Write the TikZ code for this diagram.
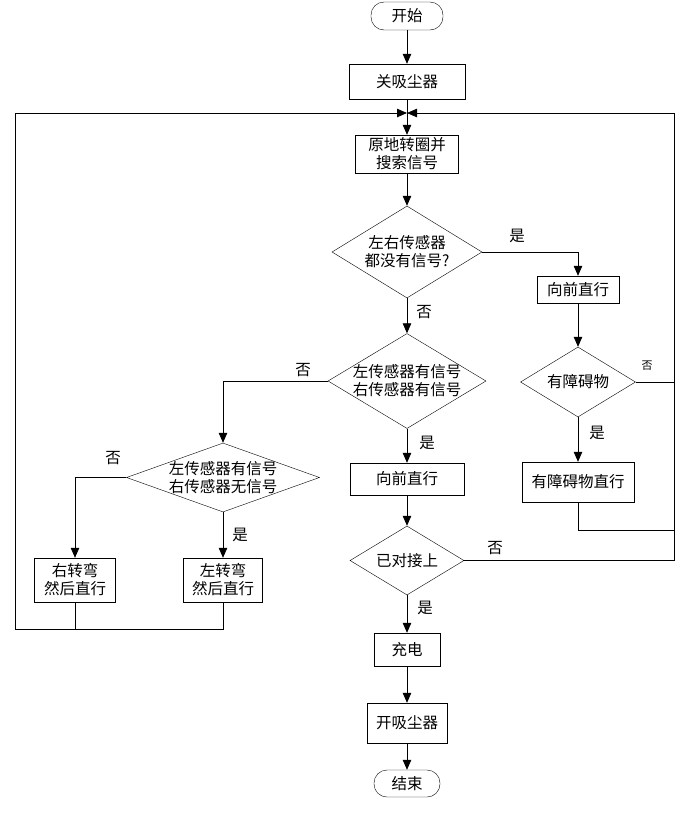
\documentclass[tikz,border=0pt]{standalone}
\usepackage{fontspec}
\setmainfont{Noto Sans CJK SC}
\usetikzlibrary{arrows.meta,shapes.geometric}

\begin{document}
\begin{tikzpicture}[x=1pt,y=-1pt,
    every node/.style={font=\fontsize{15.5}{18}\selectfont},
    box/.style={draw, rectangle, align=center, inner sep=0pt},
    terminal/.style={draw, rectangle, rounded corners=13pt, inner sep=0pt},
    decision/.style={draw, diamond, align=center, inner sep=-4pt, aspect=1.66},
    lbl/.style={inner sep=0pt},
    line/.style={line width=0.8pt},
    arrow/.style={line width=0.8pt, -{Triangle[length=10pt,width=8.5pt]}}]
    \useasboundingbox (0,0) rectangle (693,817);
    \def\mainx{407}
    % main column
    \node[terminal, minimum width=72pt, minimum height=28pt] (start) at (\mainx,16) {开始};
    \node[box, minimum width=116pt, minimum height=35pt] (off) at (\mainx,81.5) {关吸尘器};
    \node[box, minimum width=103pt, minimum height=38pt] (search) at (\mainx,154) {原地转圈并\\搜索信号};
    \node[decision, minimum width=150pt, minimum height=92pt] (nosig) at (\mainx,252) {左右传感器\\都没有信号?};
    \node[decision, minimum width=158pt, minimum height=95pt] (both) at (\mainx,381) {左传感器有信号\\右传感器有信号};
    \node[box, minimum width=114pt, minimum height=32pt] (fwdM) at (\mainx,479) {向前直行};
    \node[decision, minimum width=114pt, minimum height=69pt] (docked) at (\mainx,560.5) {已对接上};
    \node[box, minimum width=66pt, minimum height=33pt] (charge) at (\mainx,649.5) {充电};
    \node[box, minimum width=80pt, minimum height=40pt] (on) at (\mainx,723) {开吸尘器};
    \node[terminal, minimum width=66pt, minimum height=27pt] (stop) at (\mainx,783.5) {结束};
    % right column
    \node[box, minimum width=82pt, minimum height=27pt] (fwdR) at (578,289.5) {向前直行};
    \node[decision, minimum width=115pt, minimum height=70pt] (obst) at (578,382) {有障碍物};
    \node[box, minimum width=112pt, minimum height=40pt] (obstfwd) at (578,482) {有障碍物直行};
    % left column
    \node[decision, aspect=2.8, minimum width=193pt, minimum height=69pt] (leftonly) at (223,477.5) {左传感器有信号\\右传感器无信号};
    \node[box, minimum width=81pt, minimum height=44pt] (turnR) at (75,580) {右转弯\\然后直行};
    \node[box, minimum width=79pt, minimum height=44pt] (turnL) at (223,580) {左转弯\\然后直行};
    % loop corners
    \coordinate (top) at (\mainx,113);
    \coordinate (tl) at (15,113);
    \coordinate (bl) at (15,629);
    \coordinate (tr) at (674,113);
    \coordinate (br) at (674,530);
    % connectors
    \draw[arrow] (start) -- (off);
    \draw[arrow] (off) -- (search);
    \draw[arrow] (search) -- (nosig);
    \draw[arrow] (nosig) -- (both);
    \draw[arrow] (both) -- (fwdM);
    \draw[arrow] (fwdM) -- (docked);
    \draw[arrow] (docked) -- (charge);
    \draw[arrow] (charge) -- (on);
    \draw[arrow] (on) -- (stop);
    \draw[arrow] (nosig.east) -| (fwdR.north);
    \draw[arrow] (fwdR) -- (obst);
    \draw[arrow] (obst) -- (obstfwd);
    \draw[arrow] (both.west) -| (leftonly.north);
    \draw[arrow] (leftonly.west) -| (turnR.north);
    \draw[arrow] (leftonly) -- (turnL);
    % back to the search box
    \draw[arrow] (turnL.south) |- (bl) -- (tl) -- (top);
    \draw[line] (turnR.south) -- (turnR.south |- bl);
    \draw[arrow] (docked.east) -| (tr) -- (top);
    \draw[line] (obst.east) -- (obst.east -| tr);
    \draw[line] (obstfwd.south) |- (br);
    % yes / no
    \node[lbl] (y1) at (517,236) {是};
    \node[lbl] (n1) at (424,312) {否};
    \node[lbl] (n2) at (303,370) {否};
    \node[lbl] (y2) at (427,443) {是};
    \node[lbl, font=\fontsize{11}{13}\selectfont] (n4) at (647,366) {否};
    \node[lbl] (y4) at (597,433) {是};
    \node[lbl] (n3) at (113,458) {否};
    \node[lbl] (y3) at (240,535) {是};
    \node[lbl] (n5) at (495,548) {否};
    \node[lbl] (y5) at (425,608) {是};
\end{tikzpicture}
\end{document}
